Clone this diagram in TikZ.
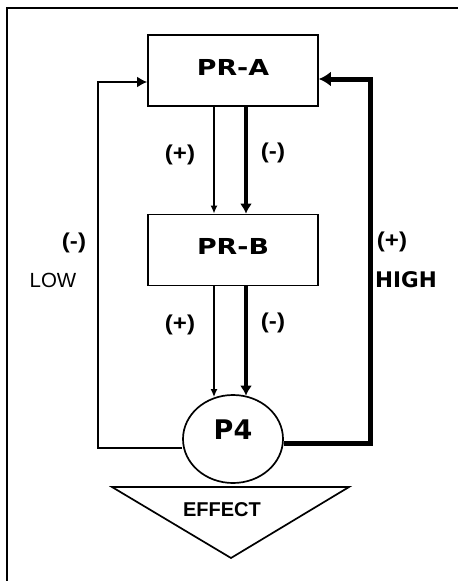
\documentclass[tikz,border=0pt]{standalone}
\usepackage{fontspec}
\setmainfont{Liberation Sans}
\newfontfamily\widefont[FakeStretch=1.22]{DejaVu Sans Bold}
\newfontfamily\blackfont{DejaVu Sans Bold}
\newfontfamily\heavyfont[FakeStretch=1.12]{Liberation Sans Bold}
\usetikzlibrary{arrows.meta,shapes.geometric}

\begin{document}
\begin{tikzpicture}[x=1pt,y=-1pt]

% --- Global TikZ Styles ---
\tikzset{
    procbox/.style={
        draw=black,
        line width=1.7pt,
        minimum width=170pt,
        minimum height=71pt,
        inner sep=0pt,
        text depth=7pt,
        font=\widefont\fontsize{22}{26}\selectfont
    },
    hubnode/.style={
        ellipse,
        draw=black,
        line width=1.7pt,
        minimum width=100pt,
        minimum height=88pt,
        inner sep=0pt,
        text depth=19pt,
        font=\blackfont\fontsize{27}{32}\selectfont
    },
    signlabel/.style={
        font=\heavyfont\fontsize{21.5}{25}\selectfont
    },
    levellabel/.style={
        font=\fontsize{20.5}{24}\selectfont
    },
    highlabel/.style={
        font=\blackfont\fontsize{21.5}{25}\selectfont
    },
    effectlabel/.style={
        font=\bfseries\fontsize{20}{24}\selectfont
    },
    thinarrow/.style={
        -{Latex[length=8pt,width=7pt]},
        line width=2pt
    },
    thickarrow/.style={
        -{Latex[length=10pt,width=12pt]},
        line width=4.5pt
    },
    lowloop/.style={
        -{Latex[length=10pt,width=11pt]},
        line width=2.5pt
    },
    highloop/.style={
        -{Latex[length=12pt,width=15pt]},
        line width=5pt
    },
    frameline/.style={
        draw=black,
        line width=1.5pt
    }
}

\useasboundingbox (0,0) rectangle (458,581);

% ==================================================
% --- Outer frame ---
% ==================================================

\draw[frameline] (7,581) -- (7,8) -- (458,8);

% ==================================================
% --- Nodes ---
% ==================================================

\node[procbox] (pra) at (233,70.5) {PR-A};
\node[procbox] (prb) at (233,250) {PR-B};
\node[hubnode] (p4) at (233,439) {P4};

% Effect triangle
\coordinate (effl) at (112,487);
\coordinate (effr) at (349,487);
\coordinate (effb) at (231,558);
\draw[line width=1.7pt] (effl) -- (effr) -- (effb) -- cycle;
\node[effectlabel] (effect) at (222,509.5) {EFFECT};

% ==================================================
% --- Signs ---
% ==================================================

\node[signlabel] (abplus) at (180,155) {(+)};
\node[signlabel] (abminus) at (273,153) {(-)};
\node[signlabel] (bpplus) at (180,325) {(+)};
\node[signlabel] (bpminus) at (273,323) {(-)};
\node[signlabel] (lowsign) at (74,243) {(-)};
\node[levellabel] (low) at (53,280) {LOW};
\node[signlabel] (highsign) at (392,242) {(+)};
\node[highlabel] (high) at (406,279.5) {HIGH};

% ==================================================
% --- Arrows ---
% ==================================================

% PR-A to PR-B
\draw[thinarrow] ([xshift=-19pt]pra.south) -- ([xshift=-19pt]prb.north);
\draw[thickarrow] ([xshift=13pt]pra.south) -- ([xshift=13pt]prb.north);

% PR-B to P4
\draw[thinarrow] ([xshift=-19pt]prb.south) -- ([xshift=-19pt,yshift=-3pt]p4.north);
\draw[thickarrow] ([xshift=13pt]prb.south) -- ([xshift=13pt,yshift=-1.5pt]p4.north);

% Feedback loops
\draw[lowloop]
    ([yshift=-9pt]p4.west)
    -| ([xshift=-49pt,yshift=-11.5pt]pra.west)
    -- ([yshift=-11.5pt]pra.west);

\draw[highloop]
    ([yshift=-4pt]p4.east)
    -| ([xshift=52pt,yshift=-8.5pt]pra.east)
    -- ([yshift=-8.5pt]pra.east);

\end{tikzpicture}
\end{document}
